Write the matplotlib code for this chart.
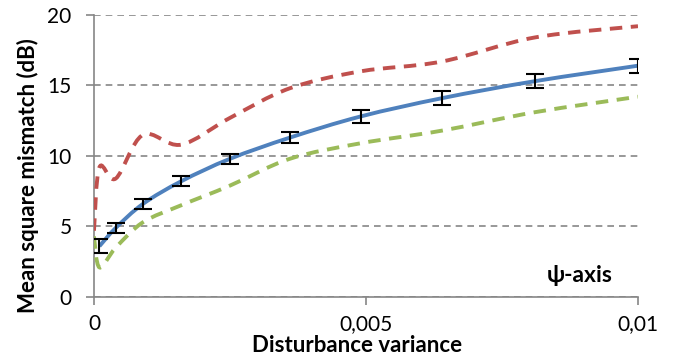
import matplotlib as mpl
mpl.use('Agg')
import matplotlib.pyplot as plt
from matplotlib.path import Path
from matplotlib.patches import PathPatch
from matplotlib.ticker import FuncFormatter

plt.rcParams['font.family'] = ['Lato', 'DejaVu Sans']

# data
x_blue = [0.0001, 0.0004, 0.0009, 0.0016, 0.0025, 0.0036, 0.0049, 0.0064, 0.0081, 0.01]
y_blue = [3.6, 4.9, 6.6, 8.2, 9.8, 11.3, 12.8, 14.1, 15.3, 16.4]
err_blue = [0.5, 0.35, 0.35, 0.35, 0.35, 0.4, 0.45, 0.5, 0.5, 0.5]

x_band = [0.0, 0.0001, 0.0004, 0.0009, 0.0016, 0.0025, 0.0036, 0.0049, 0.0064, 0.0081, 0.01]
y_red = [4.7, 9.2, 8.4, 11.5, 10.8, 12.7, 14.8, 16.0, 16.7, 18.4, 19.2]
y_green = [4.3, 2.1, 3.5, 5.3, 6.5, 7.9, 9.8, 10.9, 11.8, 13.1, 14.2]


def smooth_path(xs, ys):
    # excel-like smoothed line (catmull-rom as bezier segments)
    pts = list(zip(xs, ys))
    verts = [pts[0]]
    codes = [Path.MOVETO]
    n = len(pts)
    for i in range(n - 1):
        p0 = pts[i - 1] if i > 0 else pts[i]
        p1 = pts[i]
        p2 = pts[i + 1]
        p3 = pts[i + 2] if i + 2 < n else pts[i + 1]
        c1 = (p1[0] + (p2[0] - p0[0]) / 6, p1[1] + (p2[1] - p0[1]) / 6)
        c2 = (p2[0] - (p3[0] - p1[0]) / 6, p2[1] - (p3[1] - p1[1]) / 6)
        verts += [c1, c2, p2]
        codes += [Path.CURVE4] * 3
    return Path(verts, codes)


fig = plt.figure(figsize=(6.78, 3.64), dpi=100)
ax = fig.add_axes([0.1386, 0.184, 0.8024, 0.775])

ax.set_xlim(0, 0.01)
ax.set_ylim(0, 20)

ax.add_patch(PathPatch(smooth_path(x_band, y_red), fill=False, color='#c0504d',
                       lw=2.8, ls=(0, (3.2, 2.2)), capstyle='butt', zorder=3))
ax.add_patch(PathPatch(smooth_path(x_band, y_green), fill=False, color='#9bbb59',
                       lw=2.8, ls=(0, (3.2, 2.2)), capstyle='butt', zorder=3))
ax.add_patch(PathPatch(smooth_path(x_blue, y_blue), fill=False, color='#4f81bd',
                       lw=2.8, zorder=4))
ax.errorbar(x_blue, y_blue, yerr=err_blue, fmt='none', ecolor='black',
            elinewidth=1.5, capsize=6.5, capthick=1.5, zorder=5)

ax.set_yticks([0, 5, 10, 15, 20])
ax.set_xticks([0, 0.005, 0.01])
ax.xaxis.set_major_formatter(FuncFormatter(lambda v, p: ('%g' % round(v, 4)).replace('.', ',')))
ax.yaxis.grid(True, color='#868686', ls=(0, (4, 3)), lw=1.2)
ax.set_axisbelow(True)

for s in ['top', 'right']:
    ax.spines[s].set_visible(False)
for s in ['left', 'bottom']:
    ax.spines[s].set_color('#868686')
    ax.spines[s].set_linewidth(1.2)
ax.tick_params(axis='y', length=6, width=1.2, color='#868686', labelsize=15, pad=10)
ax.tick_params(axis='x', length=6, width=1.2, color='#868686', labelsize=15, pad=6)

ax.set_xlabel("Disturbance variance", fontsize=16, fontweight='bold', labelpad=1)
ax.set_ylabel("Mean square mismatch (dB)", fontsize=16, fontweight='bold', labelpad=6)
ax.xaxis.label.set_x(0.483)
ax.yaxis.label.set_y(0.43)
ax.text(0.00954, 1.1, "ψ-axis", fontsize=16.5, fontweight='bold', ha='right', va='baseline')

fig.savefig("out.png", dpi=100)
